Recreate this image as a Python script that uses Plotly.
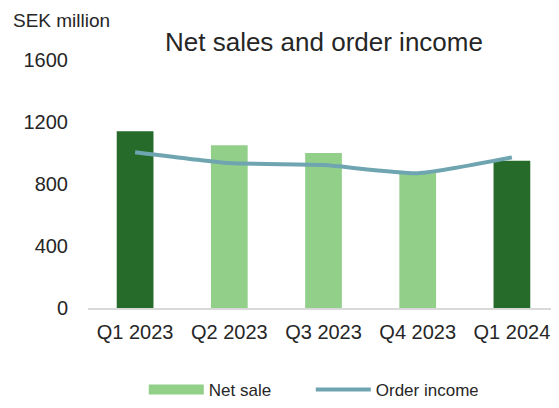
import plotly.graph_objects as go

quarters = ["Q1 2023", "Q2 2023", "Q3 2023", "Q4 2023", "Q1 2024"]
net_sales = [1140, 1050, 1000, 875, 950]
order_income = [1005, 935, 922, 870, 972]
bar_colors = ["#276B2B", "#92D08A", "#92D08A", "#92D08A", "#276B2B"]
y_ticks = [0, 400, 800, 1200, 1600]

FONT = "Liberation Sans, Arial, sans-serif"
TXT = "#262626"

fig = go.Figure()
fig.add_trace(go.Bar(
    x=quarters, y=net_sales, name="Net sale",
    marker=dict(color=bar_colors, line=dict(width=0)),
    showlegend=False,
))
# legend entry for Net sale (wide swatch)
fig.add_trace(go.Scatter(
    x=[None], y=[None], mode="lines", name="Net sale",
    line=dict(color="#92D08A", width=10),
))
fig.add_trace(go.Scatter(
    x=quarters, y=order_income, name="Order income", mode="lines",
    line=dict(color="#6FA5B1", width=4, shape="spline", smoothing=0.5),
))

fig.update_layout(
    width=551, height=400,
    margin=dict(l=80, r=0, t=52, b=98),
    paper_bgcolor="white", plot_bgcolor="white",
    bargap=0.61,
    font=dict(family=FONT, color=TXT),
    title=dict(text="Net sales and order income", x=0.501, xanchor="center",
               y=0.915, yanchor="middle", xref="paper",
               font=dict(size=26, color=TXT, family=FONT)),
    showlegend=True,
    legend=dict(orientation="h", x=0.473, xanchor="center", y=-0.332, yanchor="middle",
                font=dict(size=17, color=TXT), itemwidth=55,
                entrywidth=97, entrywidthmode="pixels",
                traceorder="normal"),
    annotations=[dict(text="SEK million", xref="paper", yref="paper",
                      x=-0.163, y=1.158, xanchor="left", yanchor="middle",
                      showarrow=False, font=dict(size=19, color=TXT))],
)
fig.update_yaxes(range=[0, 1600], tickvals=y_ticks, showgrid=False, zeroline=False,
                 showline=False, ticks="outside", ticklen=15, tickcolor="rgba(0,0,0,0)",
                 tickfont=dict(size=20))
fig.update_xaxes(showgrid=False, showline=True, linecolor="#D9D9D9", linewidth=1.5,
                 ticks="outside", ticklen=5, tickcolor="rgba(0,0,0,0)",
                 tickfont=dict(size=20))

fig.write_html("out.html")
